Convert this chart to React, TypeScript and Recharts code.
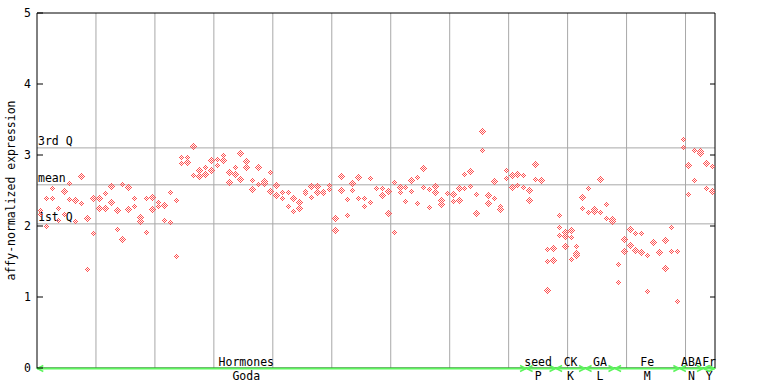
import React from 'react';
import { ScatterChart, Scatter, XAxis, YAxis, ReferenceLine } from 'recharts';

// expression values per sample column (replicates)
const sampleValues: number[][] = [
  [2.22, 2.17], [2.39, 2.0], [2.54, 2.39], [2.25, 2.09], [2.49, 2.17],
  [2.61, 2.38], [2.37, 2.07], [2.71, 2.32], [2.11, 1.39], [2.39, 1.9],
  [2.39, 2.25], [2.47, 2.25], [2.56, 2.34], [2.23, 1.96], [2.59, 1.82],
  [2.55, 2.24], [2.39, 2.28], [2.13, 2.07], [2.39, 1.92], [2.41, 2.24],
  [2.34, 2.28], [2.3, 2.09], [2.48, 2.06], [2.37, 1.58], [2.97, 2.89],
  [2.97, 2.9], [3.13, 2.72], [2.79, 2.7], [2.83, 2.73], [2.93, 2.79],
  [2.94, 2.86], [3.0, 2.93], [2.76, 2.62], [2.83, 2.73], [3.03, 2.66],
  [2.92, 2.83], [2.65, 2.52], [2.83, 2.59], [2.63, 2.61], [2.76, 2.49],
  [2.58, 2.44], [2.48, 2.39], [2.48, 2.28], [2.39, 2.21], [2.34, 2.25],
  [2.49, 2.47], [2.56, 2.41], [2.56, 2.48], [2.49, 2.47], [2.58, 2.52],
  [2.11, 1.94], [2.7, 2.51], [2.38, 2.16], [2.61, 2.51], [2.69, 2.39],
  [2.39, 2.28], [2.68, 2.34], [2.53, 2.54], [2.54, 2.44], [2.49, 2.18],
  [2.62, 1.92], [2.55, 2.48], [2.55, 2.35], [2.65, 2.49], [2.69, 2.32],
  [2.82, 2.55], [2.52, 2.27], [2.56, 2.48], [2.37, 2.31], [2.46, 2.47],
  [2.45, 2.35], [2.54, 2.37], [2.73, 2.54], [2.78, 2.56], [2.45, 2.18],
  [3.34, 3.07], [2.44, 2.32], [2.63, 2.39], [2.28, 2.24], [2.79, 2.68],
  [2.72, 2.55], [2.73, 2.58], [2.72, 2.55], [2.51, 2.37], [2.87, 2.66],
  [2.64, 2.65], [1.68, 1.51, 1.1], [1.68, 1.52, 1.69], [2.16, 1.99, 1.87], [1.92, 1.86, 1.72],
  [1.94, 1.85, 1.54], [1.72, 1.62, 1.59], [2.41, 2.25], [2.54, 2.2], [2.24, 2.21],
  [2.66, 2.2], [2.31, 2.11], [2.1, 2.07], [1.47, 1.21], [1.82, 1.65],
  [1.96, 1.73], [1.9, 1.66], [1.9, 1.63], [1.59, 1.09], [1.77, 1.78],
  [1.63, 1.64], [1.8, 1.41], [1.99, 1.65], [1.65, 0.94], [3.23, 3.11],
  [2.86, 2.45], [3.07, 2.65], [3.06, 3.03], [2.89, 2.54], [2.85, 2.49],
];

const groupNames = ['Hormones', 'seed', 'CK', 'GA', 'Fe', 'ABA', 'Fr'];
const groupCodes = ['Goda', 'P', 'K', 'L', 'M', 'N', 'Y'];
const groupStart = [0, 83, 88, 93, 98, 109, 113];
const groupEnd = [82, 87, 92, 97, 108, 112, 114];
const groupLabelAt = [35, 84.5, 90, 95, 103, 110.5, 113.5];

const quartileNames = ['3rd Q', 'mean', '1st Q'];
const quartileValues = [3.1, 2.58, 2.03];

const separatorCols = [9.5, 19.5, 29.5, 39.5, 49.5, 59.5, 69.5, 79.5, 89.5, 99.5, 109.5];
const yTicks = [0, 1, 2, 3, 4, 5];
const yTicksRight = [1, 2, 3, 4];

const points = sampleValues.flatMap((vals, i) => vals.map((v) => ({ x: i, y: v })));

const FONT = '"DejaVu Sans Mono", monospace';
const RED = '#ff5050';
const GREEN = '#5cf55c';
const GRID = '#a8a8a8';

const Diamond = (props: any) => {
  const { cx, cy } = props;
  if (cx == null || cy == null) return null;
  const r = 3.5;
  const x = Math.round(cx) + 0.5;
  const y = Math.round(cy) + 0.5;
  return (
    <polygon
      points={`${x},${y - r} ${x + r},${y} ${x},${y + r} ${x - r},${y}`}
      fill="url(#checker)"
      shapeRendering="crispEdges"
    />
  );
};

const LeftTick = (props: any) => {
  const { x, y, payload } = props;
  return (
    <g>
      <line x1={x} x2={x + 6} y1={y} y2={y} stroke="#000" />
      <text x={x - 6} y={y} dy="0.35em" textAnchor="end" fontFamily={FONT} fontSize={11.5} fill="#000">
        {payload.value}
      </text>
    </g>
  );
};

const RightTick = (props: any) => {
  const { x, y } = props;
  return <line x1={x - 5} x2={x} y1={y} y2={y} stroke="#000" />;
};

const makeGroupShape = (gi: number) => (props: any) => {
  const { x1, y1, x2 } = props;
  const span = groupEnd[gi] - groupStart[gi] + 0.9;
  const frac = (groupLabelAt[gi] - (groupStart[gi] - 0.45)) / span;
  const lx = x1 + (x2 - x1) * frac;
  const y = y1;
  return (
    <g>
      <line x1={x1} x2={x2} y1={y + 0.5} y2={y + 0.5} stroke={GREEN} strokeWidth={2} />
      <polyline points={`${x1 + 6},${y - 2.5} ${x1},${y + 0.5} ${x1 + 6},${y + 3.5}`} fill="none" stroke={GREEN} strokeWidth={1.5} />
      <polyline points={`${x2 - 6},${y - 2.5} ${x2},${y + 0.5} ${x2 - 6},${y + 3.5}`} fill="none" stroke={GREEN} strokeWidth={1.5} />
      <text x={lx} y={y - 2} textAnchor="middle" fontFamily={FONT} fontSize={11.5} fill="#000">
        {groupNames[gi]}
      </text>
      <text x={lx} y={y + 12} textAnchor="middle" fontFamily={FONT} fontSize={11.5} fill="#000">
        {groupCodes[gi]}
      </text>
    </g>
  );
};

const quartileLabel = (name: string) => (props: any) => {
  const vb = props.viewBox || {};
  return (
    <text x={(vb.x ?? 37) + 1} y={(vb.y ?? 0) - 3} fontFamily={FONT} fontSize={11.5} fill="#000">
      {name}
    </text>
  );
};

const yAxisLabel = (props: any) => {
  const vb = props.viewBox || { x: 0, y: 13, width: 37, height: 355 };
  const cx = vb.x + 11;
  const cy = vb.y + vb.height / 2;
  return (
    <text
      x={cx}
      y={cy}
      transform={`rotate(-90, ${cx}, ${cy})`}
      textAnchor="middle"
      dominantBaseline="central"
      fontFamily={FONT}
      fontSize={11.5}
      fill="#000"
    >
      affy-normalized expression
    </text>
  );
};

export default function App() {
  return (
    <div style={{ position: 'absolute', left: 0, top: 0, width: 768, height: 384, background: '#fff' }}>
      <svg width={0} height={0} style={{ position: 'absolute' }}>
        <defs>
          <pattern id="checker" width={2} height={2} patternUnits="userSpaceOnUse">
            <rect x={0} y={0} width={1} height={1} fill={RED} />
            <rect x={1} y={1} width={1} height={1} fill={RED} />
          </pattern>
        </defs>
      </svg>
      <ScatterChart width={768} height={384} margin={{ top: 13, right: 0, bottom: 0, left: 0 }}>
        <XAxis
          type="number"
          dataKey="x"
          domain={[-0.5, 114.5]}
          allowDataOverflow
          tick={false}
          tickLine={false}
          axisLine={false}
          height={16}
        />
        <YAxis
          type="number"
          dataKey="y"
          domain={[0, 5]}
          ticks={yTicks}
          allowDataOverflow
          width={37}
          tickSize={0}
          tickMargin={0}
          tickLine={false}
          axisLine={{ stroke: '#000' }}
          tick={<LeftTick />}
          label={yAxisLabel}
        />
        <YAxis
          yAxisId="r"
          orientation="right"
          type="number"
          domain={[0, 5]}
          ticks={yTicksRight}
          allowDataOverflow
          width={53}
          tickSize={0}
          tickMargin={0}
          tickLine={false}
          axisLine={{ stroke: '#000' }}
          tick={<RightTick />}
        />
        {separatorCols.map((c) => (
          <ReferenceLine key={`sep${c}`} x={c} stroke={GRID} strokeWidth={1} />
        ))}
        {quartileValues.map((q, i) => (
          <ReferenceLine key={`q${i}`} y={q} stroke={GRID} strokeWidth={1} label={quartileLabel(quartileNames[i])} />
        ))}
        <ReferenceLine y={5} stroke="#000" strokeWidth={1} />
        <ReferenceLine y={0} stroke="#000" strokeWidth={1} />
        <Scatter data={points} shape={<Diamond />} isAnimationActive={false} />
        {groupNames.map((g, i) => (
          <ReferenceLine
            key={`grp${g}`}
            segment={[
              { x: groupStart[i] - 0.45, y: 0 },
              { x: groupEnd[i] + 0.45, y: 0 },
            ]}
            shape={makeGroupShape(i)}
          />
        ))}
      </ScatterChart>
    </div>
  );
}
